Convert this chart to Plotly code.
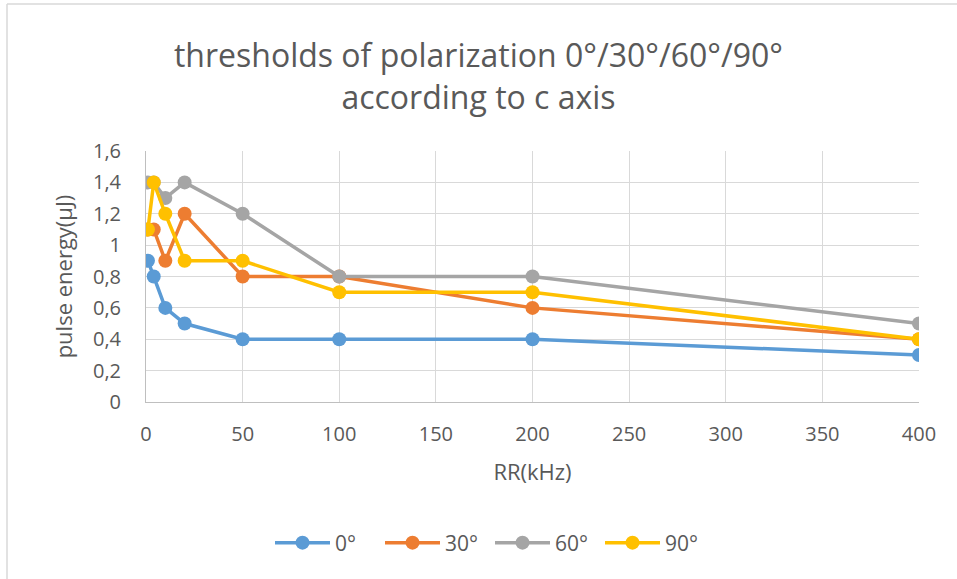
import plotly.graph_objects as go

rr = [1, 4, 10, 20, 50, 100, 200, 400]
s0 = [0.9, 0.8, 0.6, 0.5, 0.4, 0.4, 0.4, 0.3]
s30 = [1.1, 1.1, 0.9, 1.2, 0.8, 0.8, 0.6, 0.4]
s60 = [1.4, 1.4, 1.3, 1.4, 1.2, 0.8, 0.8, 0.5]
s90 = [1.1, 1.4, 1.2, 0.9, 0.9, 0.7, 0.7, 0.4]
names = ["0°", "30°", "60°", "90°"]
colors = ["#5B9BD5", "#ED7D31", "#A5A5A5", "#FFC000"]

FONT = "Open Sans"
TXT = "#595959"
W, H = 957, 579
L, R, T, B = 146, 38, 151, 177
PW, PH = W - L - R, H - T - B

fig = go.Figure()
for name, ys, c in zip(names, [s0, s30, s60, s90], colors):
    fig.add_trace(go.Scatter(
        x=rr, y=ys, name=name, mode="lines+markers",
        line=dict(color=c, width=3.5),
        marker=dict(color=c, size=14),
    ))

fig.update_layout(
    width=W, height=H,
    margin=dict(l=L, r=R, t=T, b=B, pad=0),
    paper_bgcolor="white", plot_bgcolor="white",
    separators=",.",
    font=dict(family=FONT, color=TXT, size=20),
    title=dict(
        text="thresholds of polarization 0°/30°/60°/90°<br>according to c axis",
        x=0.5, xanchor="center", y=1 - 67 / H, yanchor="middle",
        font=dict(family=FONT, size=32, color=TXT),
    ),
    xaxis=dict(
        range=[0, 400], dtick=50, tick0=0,
        showgrid=True, gridcolor="#D9D9D9", gridwidth=1,
        showline=True, linecolor="#BFBFBF", linewidth=1,
        zeroline=False, ticks="outside", ticklen=14, tickcolor="rgba(0,0,0,0)",
        title=dict(text="RR(kHz)", font=dict(size=22, color=TXT), standoff=18),
        tickfont=dict(size=20, color=TXT),
    ),
    yaxis=dict(
        range=[0, 1.6], dtick=0.2, tick0=0,
        showgrid=True, gridcolor="#D9D9D9", gridwidth=1,
        showline=True, linecolor="#BFBFBF", linewidth=1,
        zeroline=False, ticks="outside", ticklen=20, tickcolor="rgba(0,0,0,0)",
        title=dict(text="pulse energy(μJ)", font=dict(size=22, color=TXT), standoff=14),
        tickfont=dict(size=20, color=TXT),
    ),
    legend=dict(
        orientation="h", x=(490 - L) / PW, xanchor="center",
        y=(H - B - 543) / PH, yanchor="middle",
        font=dict(size=21, color=TXT),
        itemwidth=55, entrywidth=40, entrywidthmode="pixels",
    ),
    showlegend=True,
)

# outer chart frame (left and top edges visible)
fig.add_shape(type="line", xref="paper", yref="paper",
              x0=(7 - L) / PW, x1=(7 - L) / PW, y0=(H - B - H - 5) / PH, y1=(H - B - 4) / PH,
              line=dict(color="#D9D9D9", width=1.5), layer="below")
fig.add_shape(type="line", xref="paper", yref="paper",
              x0=(7 - L) / PW, x1=(W + 5 - L) / PW, y0=(H - B - 4) / PH, y1=(H - B - 4) / PH,
              line=dict(color="#D9D9D9", width=1.5), layer="below")

fig.write_html("out.html", config={"displayModeBar": False},
               post_script="document.body.style.margin='0';")
